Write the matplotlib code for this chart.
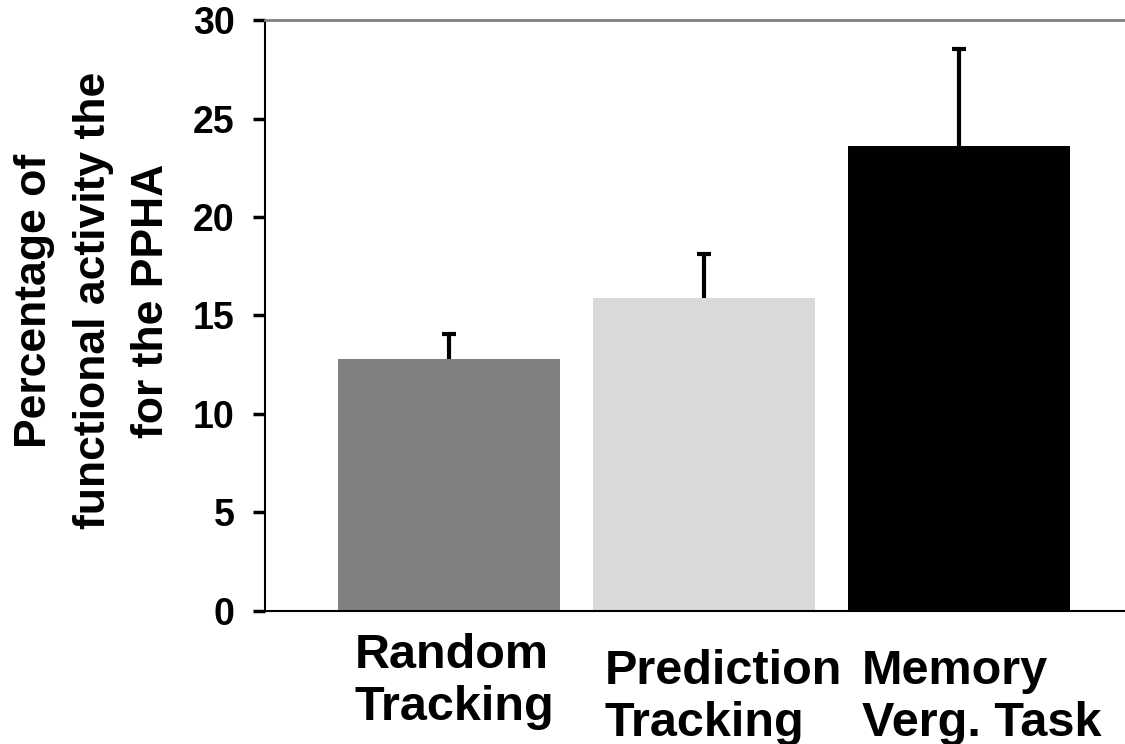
import numpy as np
import matplotlib
matplotlib.use("Agg")
import matplotlib.pyplot as plt

plt.rcParams['font.family'] = ['Liberation Sans', 'DejaVu Sans']
plt.rcParams['font.weight'] = 'bold'

# valores
categorias = ['Random\nTracking', 'Prediction\nTracking', 'Memory\nVerg. Task']
medias = np.array([12.8, 15.9, 23.6])
erros = np.array([1.25, 2.2, 4.95])
cores = ['#808080', '#d9d9d9', '#000000']
yticks = [0, 5, 10, 15, 20, 25, 30]

fig = plt.figure(figsize=(11.25, 7.44), dpi=100)
ax = fig.add_axes([0.2356, 0.1788, 0.7644, 0.7943])

x = np.arange(len(categorias))
ax.bar(x, medias, width=0.87, color=cores, zorder=2)
ax.errorbar(x, medias, yerr=erros, fmt='none', ecolor='black',
            elinewidth=3, capsize=5, capthick=3, zorder=1)

ax.set_xlim(-0.72, 2.65)
ax.set_ylim(0, 30)
ax.set_yticks(yticks)
ax.set_xticks([])
ax.tick_params(axis='y', direction='out', length=9, width=2.5, pad=13,
               labelsize=27)
for lab in ax.get_yticklabels():
    lab.set_fontweight('bold')

ax.spines['right'].set_visible(False)
ax.spines['top'].set_color('#808080')
ax.spines['top'].set_linewidth(2)
ax.spines['left'].set_linewidth(1.5)
ax.spines['bottom'].set_linewidth(1.5)

# rótulos das categorias alinhados à esquerda, com deslocamentos
desloc_x = [-94, -99, -97]
desloc_y = [-22, -38, -38]
for i, cat in enumerate(categorias):
    ax.annotate(cat, xy=(x[i], 0), xycoords='data',
                xytext=(desloc_x[i], desloc_y[i]), textcoords='offset pixels',
                ha='left', va='top', fontsize=35, fontweight='bold',
                multialignment='left', linespacing=1.2, annotation_clip=False)

ax.set_ylabel('Percentage of\nfunctional activity the\nfor the PPHA',
              fontsize=32, fontweight='bold', linespacing=1.55)
ax.yaxis.set_label_coords(-0.108, 0.525)

fig.savefig('out.png', dpi=100)
